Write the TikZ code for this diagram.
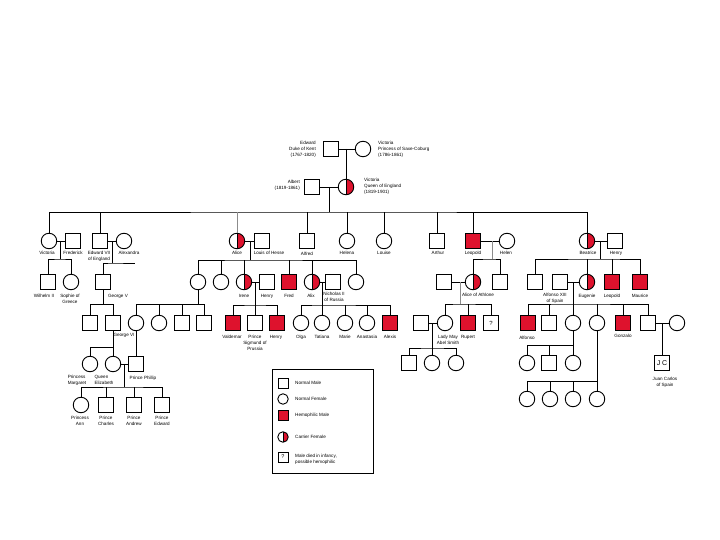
\documentclass[tikz,border=0pt]{standalone}
\usepackage{fontspec}
\setmainfont{Liberation Sans}
\definecolor{hred}{RGB}{222,18,45}
\newcommand{\lblfont}{\fontsize{4.6}{6}\selectfont}
\tikzset{
  ln/.style={line width=0.9pt},
  lng/.style={line width=0.9pt, draw=black!45},
  male/.style={draw, rectangle, minimum size=15pt, inner sep=0pt, line width=0.9pt, fill=white},
  female/.style={draw, circle, minimum size=15.5pt, inner sep=0pt, line width=0.9pt, fill=white},
  hemo/.style={male, fill=hred},
  carrier/.style={female, path picture={\fill[hred] (path picture bounding box.north) rectangle (path picture bounding box.south east); \draw[line width=0.9pt] (path picture bounding box.north) -- (path picture bounding box.south);}},
  lmale/.style={male, minimum size=10pt},
  lfemale/.style={female, minimum size=10.5pt},
  lhemo/.style={hemo, minimum size=10pt},
  lcarrier/.style={carrier, minimum size=10.5pt},
  lbl/.style={font=\lblfont, align=center, inner sep=0pt, anchor=north},
}
\begin{document}
\begin{tikzpicture}[x=1pt,y=-1pt]
\useasboundingbox (0,0) rectangle (720,540);
% ---------- generation 0
\node[male] (edw) at (331,149) {};
\node[female] (vic0) at (363,149) {};
\node[lbl, anchor=east, align=right] (edwL) at (316,149) {Edward\\Duke of Kent\\(1767-1820)};
\node[lbl, anchor=west, align=left] (vic0L) at (378,149) {Victoria\\Princess of Saxe-Coburg\\(1786-1861)};
\draw[ln] (edw) -- (vic0);
\coordinate (m0) at (346,149);
% ---------- generation 1
\node[male] (alb) at (312,187) {};
\node[carrier] (qv) at (346,187) {};
\node[lbl, anchor=east, align=right] (albL) at (300,185) {Albert\\(1819-1861)};
\node[lbl, anchor=west, align=left] (qvL) at (364,186) {Victoria\\Queen of England\\(1819-1901)};
\draw[ln] (m0) -- (qv);
\draw[ln] (alb) -- (qv);
\coordinate (m1) at (329,187);
\draw[ln] (m1) -- ++(0,25) coordinate (s1);
% ---------- generation 2 (y=241)
\node[female] (vicR) at (49,241) {};
\node[male] (fred) at (73,241) {};
\node[male] (edw7) at (100,241) {};
\node[female] (alexa) at (124,241) {};
\node[carrier] (alice) at (237,241) {};
\node[male] (louis) at (262,241) {};
\node[male] (alfred) at (307,241) {};
\node[female] (helena) at (347,241) {};
\node[female] (louise) at (384,241) {};
\node[male] (arthur) at (437,241) {};
\node[hemo] (leo) at (473,241) {};
\node[female] (helen) at (507,241) {};
\node[carrier] (beat) at (587,241) {};
\node[male] (henryB) at (615,241) {};
\draw[ln] (vicR.north) |- (s1) -| (beat.north);
\foreach \n in {edw7,alfred,helena,louise,arthur,leo} \draw[ln] (\n.north) -- (\n.north |- s1);
\draw[lng] (alice.north) -- (alice.north |- s1);
\draw[ln] (vicR) -- (fred);
\draw[ln] (edw7) -- (alexa);
\draw[ln] (alice) -- (louis);
\draw[ln] (leo) -- (helen);
\draw[ln] (beat) -- (henryB);
\node[lbl] at (47,251) {Victoria};
\node[lbl] at (73,251) {Frederick};
\node[lbl] at (99,251) {Edward VII\\of England};
\node[lbl] at (129,251) {Alexandra};
\node[lbl] at (237,251) {Alice};
\node[lbl] at (269,251) {Louis of Hesse};
\node[lbl] at (307,252) {Alfred};
\node[lbl] at (347,251) {Helena};
\node[lbl] at (384,251) {Louise};
\node[lbl] at (438,251) {Arthur};
\node[lbl] at (473,251) {Leopold};
\node[lbl] at (506,251) {Helen};
\node[lbl] at (588,251) {Beatrice};
\node[lbl] at (616,251) {Henry};
% ---------- generation 3 (y=282)
\node[male] (wilh) at (48,282) {};
\node[female] (sophie) at (71,282) {};
\node[male] (georgeV) at (103,282) {};
\node[female] (vhesse) at (198,282) {};
\node[female] (c221) at (221,282) {};
\node[carrier] (irene) at (244,282) {};
\node[male] (henryI) at (267,282) {};
\node[hemo] (fredH) at (289,282) {};
\node[carrier] (alix) at (312,282) {};
\node[male] (nich) at (333,282) {};
\node[female] (c356) at (356,282) {};
\node[male] (alexA) at (444,282) {};
\node[carrier] (alath) at (473,282) {};
\node[male] (charlesE) at (500,282) {};
\node[male] (b1) at (535,282) {};
\node[male] (alf13) at (560,282) {};
\node[carrier] (eug) at (587,282) {};
\node[hemo] (leoB) at (612,282) {};
\node[hemo] (maur) at (640,282) {};
% descents gen2 -> gen3
\coordinate (m2) at (60,241);
\draw[ln] (m2) -- ++(0,18) coordinate (s2);
\draw[ln] (wilh.north) |- (s2) -| (sophie.north);
\coordinate (m3) at (112,241);
\draw[ln] (m3) -- ++(0,22) coordinate (s3);
\draw[ln] (georgeV.north) |- (s3) -- ++(23,0) coordinate (s3e);
\coordinate (m4) at (250,241);
\draw[ln] (m4) -- ++(0,19) coordinate (s4);
\draw[ln] (vhesse.north) |- (s4) -| (c356.north);
\foreach \n in {c221,irene,fredH,alix} \draw[ln] (\n.north) -- (\n.north |- s4);
\coordinate (m5) at (492,241);
\draw[lng] (m5) -- ++(0,18) coordinate (s5);
\draw[ln] (alath.north) |- (s5) -| (charlesE.north);
\coordinate (m6) at (600,241);
\draw[ln] (m6) -- ++(0,18) coordinate (s6);
\draw[ln] (b1.north) |- (s6) -| (maur.north);
\foreach \n in {eug,leoB} \draw[ln] (\n.north) -- (\n.north |- s6);
% marriages gen3
\draw[ln] (irene) -- (henryI);
\draw[ln] (alix) -- (nich);
\draw[ln] (alexA) -- (alath);
\draw[ln] (alf13) -- (eug);
\node[lbl] at (44,294) {Wilhelm II};
\node[lbl] at (70,294) {Sophie of\\Greece};
\node[lbl] at (118,294) {George V};
\node[lbl] at (244,294) {Irene};
\node[lbl] at (267,294) {Henry};
\node[lbl] at (289,294) {Fred};
\node[lbl] at (311,294) {Alix};
\node[lbl] at (334,292) {Nicholas II\\of Russia};
\node[lbl] at (478,293) {Alice of Athlone};
\node[lbl] at (555,293) {Alfonso XIII\\of Spain};
\node[lbl] at (587,294) {Eugenie};
\node[lbl] at (612,294) {Leopold};
\node[lbl] at (640,294) {Maurice};
% ---------- generation 4 (y=323)
\node[male] (g1) at (90,323) {};
\node[male] (g6) at (113,323) {};
\node[female] (bat1) at (136,323) {};
\node[female] (bat2) at (159,323) {};
\node[male] (bat3) at (182,323) {};
\node[male] (bat4) at (204,323) {};
\node[hemo] (valde) at (233,323) {};
\node[male] (sigm) at (255,323) {};
\node[hemo] (henryP) at (277,323) {};
\node[female] (olga) at (301,323) {};
\node[female] (tat) at (322,323) {};
\node[female] (marie) at (345,323) {};
\node[female] (anast) at (367,323) {};
\node[hemo] (alexis) at (390,323) {};
\node[male] (abel) at (421,323) {};
\node[female] (may) at (445,323) {};
\node[hemo] (rup) at (468,323) {};
\node[male, font=\fontsize{6}{6}\selectfont] (unk) at (491,323) {?};
\node[hemo] (alfo) at (528,323) {};
\node[male] (s549) at (549,323) {};
\node[female] (d573) at (573,323) {};
\node[female] (d597) at (597,323) {};
\node[hemo] (gonz) at (623,323) {};
\node[male] (s648) at (648,323) {};
\node[female] (w677) at (677,323) {};
% descents gen3 -> gen4
\draw[ln] (georgeV.south) -- ++(0,14.5) coordinate (s9);
\draw[ln] (g1.north) |- (s9) -| (g6.north);
\draw[ln] (vhesse.south) -- ++(0,14.5) coordinate (s10);
\draw[ln] (bat1.north) |- (s10) -| (bat4.north);
\foreach \n in {bat2,bat3} \draw[ln] (\n.north) -- (\n.north |- s10);
\coordinate (m7) at (255,282);
\draw[ln] (m7) -- ++(0,23) coordinate (s7);
\draw[ln] (valde.north) |- (s7) -| (henryP.north);
\draw[ln] (sigm.north) -- (s7);
\coordinate (m8) at (322,282);
\draw[ln] (m8) -- ++(0,23) coordinate (s8);
\draw[ln] (olga.north) |- (s8) -| (alexis.north);
\foreach \n in {tat,marie,anast} \draw[ln] (\n.north) -- (\n.north |- s8);
\coordinate (m11) at (460,282);
\draw[lng] (m11) -- ++(0,22) coordinate (s11);
\draw[ln] (may.north) |- (s11) -| (unk.north);
\draw[ln] (rup.north) -- (rup.north |- s11);
\coordinate (m12) at (573,282);
\draw[ln] (m12) -- ++(0,22) coordinate (s12);
\draw[ln] (alfo.north) |- (s12) -| (s648.north);
\foreach \n in {s549,d573,d597,gonz} \draw[ln] (\n.north) -- (\n.north |- s12);
% marriages gen4
\draw[ln] (abel) -- (may);
\draw[ln] (s648) -- (w677);
\node[lbl] at (124,333) {George VI};
\node[lbl] at (232,335) {Valdemar};
\node[lbl] at (255,335) {Prince\\Sigmund of\\Prussia};
\node[lbl] at (276,335) {Henry};
\node[lbl] at (301,335) {Olga};
\node[lbl] at (322,335) {Tatiana};
\node[lbl] at (345,335) {Marie};
\node[lbl] at (367,335) {Anastasia};
\node[lbl] at (390,335) {Alexis};
\node[lbl] at (448,335) {Lady May\\Abel Smith};
\node[lbl] at (468,335) {Rupert};
\node[lbl] at (527,336) {Alfonso};
\node[lbl] at (623,334) {Gonzalo};
% ---------- generation 5
\node[female] (marg) at (90,364) {};
\node[female] (eliz) at (113,364) {};
\node[male] (philip) at (136,364) {};
\node[male] (k1) at (409,363) {};
\node[female] (k2) at (432,363) {};
\node[female] (k3) at (456,363) {};
\node[female] (p1) at (527,363) {};
\node[male] (p2) at (549,363) {};
\node[female] (p3) at (573,363) {};
\node[male, font=\fontsize{7}{7}\selectfont] (jc) at (662,363) {J C};
\draw[ln] (g6.south) -- ++(0,16.5) coordinate (s13);
\draw[ln] (marg.north) |- (s13) -- (eliz.north);
\draw[ln] (bat1) -- (philip);
\draw[ln] (eliz) -- (philip);
\coordinate (m14) at (432,323);
\draw[ln] (m14) -- ++(0,25) coordinate (s14);
\draw[ln] (k1.north) |- (s14) -| (k3.north);
\draw[ln] (k2.north) -- (s14);
\draw[ln] (d573.south) -- ++(0,14.5) coordinate (s15);
\draw[ln] (p1.north) |- (s15) -- (p3.north);
\draw[ln] (p2.north) -- (p2.north |- s15);
\coordinate (m17) at (662,323);
\draw[ln] (m17) -- (jc);
\node[lbl, align=left] at (77,375) {Princess\\Margaret};
\node[lbl, align=left] at (104,375) {Queen\\Elizabeth};
\node[lbl] at (143,376) {Prince Phillip};
\node[lbl] at (665,377) {Juan Carlos\\of Spain};
% ---------- generation 6
\node[female] (anne) at (81,405) {};
\node[male] (charles) at (106,405) {};
\node[male] (andrew) at (134,405) {};
\node[male] (edwP) at (162,405) {};
\coordinate (m18) at (124.5,364);
\draw[ln] (m18) -- ++(0,23) coordinate (s18);
\draw[ln] (anne.north) |- (s18) -| (edwP.north);
\foreach \n in {charles,andrew} \draw[ln] (\n.north) -- (\n.north |- s18);
\node[lbl] at (80,416) {Princess\\Ann};
\node[lbl] at (106,416) {Prince\\Charles};
\node[lbl] at (134,416) {Prince\\Andrew};
\node[lbl] at (162,416) {Prince\\Edward};
\node[female] (q1) at (527,399) {};
\node[female] (q2) at (550,399) {};
\node[female] (q3) at (573,399) {};
\node[female] (q4) at (597,399) {};
\draw[ln] (d597.south) -- ++(0,50.5) coordinate (s16);
\draw[ln] (q1.north) |- (s16) -- (q4.north);
\foreach \n in {q2,q3} \draw[ln] (\n.north) -- (\n.north |- s16);
% ---------- legend
\draw[line width=0.8pt] (272,369) rectangle (373,473);
\node[lmale] (lg1) at (283,383) {};
\node[lfemale] (lg2) at (283,399) {};
\node[lhemo] (lg3) at (283,415) {};
\node[lcarrier] (lg4) at (283,437) {};
\node[lmale, font=\fontsize{5.5}{5.5}\selectfont] (lg5) at (283,457) {?};
\node[lbl, anchor=west] at (295,383) {Normal Male};
\node[lbl, anchor=west] at (295,399) {Normal Female};
\node[lbl, anchor=west] at (295,415) {Hemophilic Male};
\node[lbl, anchor=west] at (295,437) {Carrier Female};
\node[lbl, anchor=west, align=left] at (295,459) {Male died in infancy,\\possible hemophilic};
\end{tikzpicture}
\end{document}
